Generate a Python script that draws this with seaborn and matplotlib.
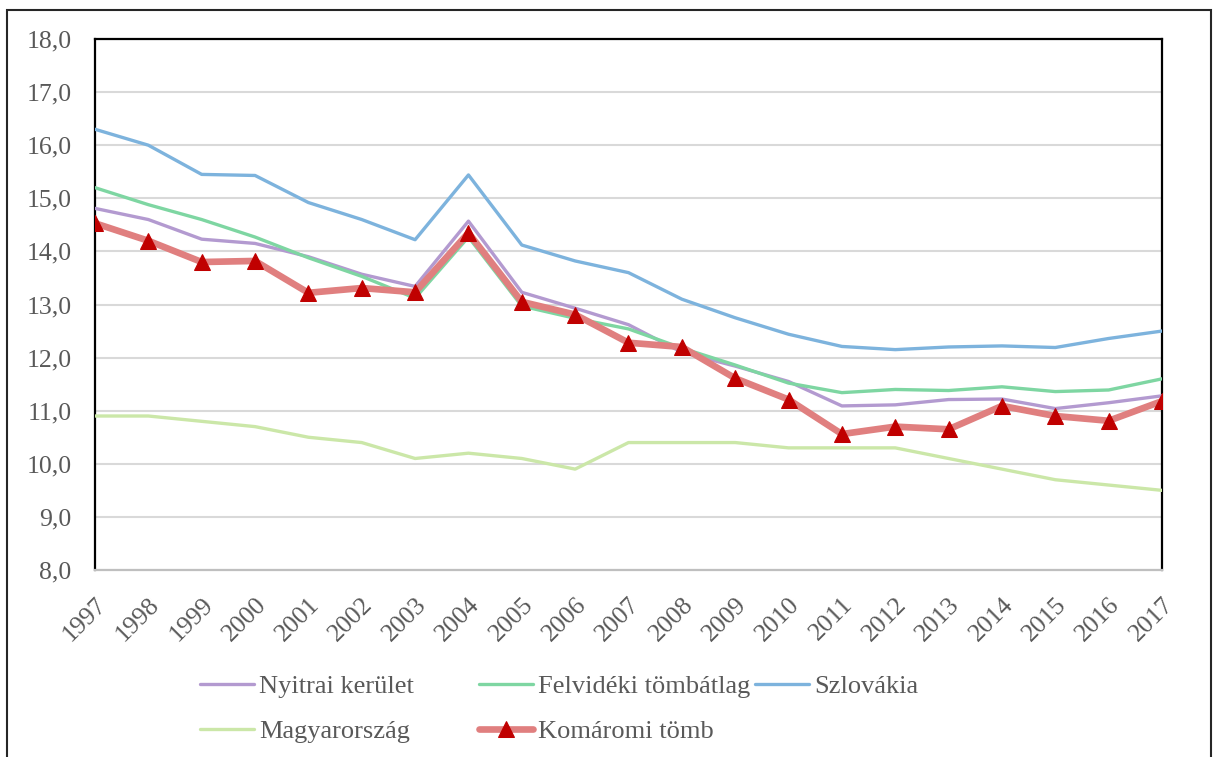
import matplotlib
matplotlib.use('Agg')
import matplotlib.pyplot as plt
import matplotlib.patches as mpatches
import pandas as pd
import seaborn as sns

years = list(range(1997, 2018))
nyitrai = [14.81, 14.60, 14.23, 14.15, 13.90, 13.57, 13.34, 14.57, 13.23, 12.93, 12.62,
           12.10, 11.84, 11.55, 11.09, 11.11, 11.21, 11.22, 11.04, 11.15, 11.28]
felvideki = [15.20, 14.88, 14.60, 14.27, 13.88, 13.53, 13.12, 14.27, 12.97, 12.74, 12.54,
             12.18, 11.86, 11.52, 11.34, 11.40, 11.38, 11.45, 11.36, 11.39, 11.60]
szlovakia = [16.30, 16.00, 15.45, 15.43, 14.92, 14.60, 14.22, 15.44, 14.12, 13.82, 13.60,
             13.10, 12.75, 12.44, 12.21, 12.15, 12.20, 12.22, 12.19, 12.36, 12.50]
magyar = [10.9, 10.9, 10.8, 10.7, 10.5, 10.4, 10.1, 10.2, 10.1, 9.9, 10.4,
          10.4, 10.4, 10.3, 10.3, 10.3, 10.1, 9.9, 9.7, 9.6, 9.5]
komaromi = [14.53, 14.20, 13.80, 13.82, 13.22, 13.31, 13.23, 14.35, 13.05, 12.81, 12.28,
            12.20, 11.61, 11.21, 10.56, 10.70, 10.65, 11.09, 10.90, 10.81, 11.18]

series = {
    "Nyitrai kerület": nyitrai,
    "Felvidéki tömbátlag": felvideki,
    "Szlovákia": szlovakia,
    "Magyarország": magyar,
    "Komáromi tömb": komaromi,
}
colors = {
    "Nyitrai kerület": "#B39AD0",
    "Felvidéki tömbátlag": "#7ED6A2",
    "Szlovákia": "#7DB3DD",
    "Magyarország": "#CBE7A8",
    "Komáromi tömb": "#E07F7F",
}

df = pd.DataFrame(
    [(name, y, v) for name, vals in series.items() for y, v in zip(years, vals)],
    columns=["series", "year", "value"],
)

sns.set_style("white")
plt.rcParams['font.family'] = ['Liberation Serif', 'DejaVu Serif']
TXT = "#595959"
W, H = 1213, 757

fig = plt.figure(figsize=(W / 100, H / 100), dpi=100)
ax = fig.add_axes([95 / W, 1 - 570 / H, (1162 - 95) / W, (570 - 39) / H])

for name in series:
    d = df[df["series"] == name]
    if name == "Komáromi tömb":
        sns.lineplot(data=d, x="year", y="value", ax=ax, color=colors[name], lw=4.8,
                     marker="^", markersize=12, markerfacecolor="#C00000",
                     markeredgecolor="#C00000", label=name, zorder=5)
    else:
        sns.lineplot(data=d, x="year", y="value", ax=ax, color=colors[name], lw=2.4,
                     label=name, zorder=3)

ax.set_xlim(1997, 2017)
ax.set_ylim(8, 18)
ax.set_yticks([8 + i for i in range(11)])
ax.set_yticklabels([f"{8 + i},0" for i in range(11)], fontsize=18.5, color=TXT)
ax.set_xticks(years)
ax.set_xticklabels([str(y) for y in years], rotation=45, ha="right", va="top",
                   rotation_mode="anchor", fontsize=18.5, color=TXT)
ax.tick_params(axis="y", length=0, pad=17)
ax.tick_params(axis="x", length=0, pad=17)
ax.set_xlabel("")
ax.set_ylabel("")
ax.grid(axis="y", color="#D9D9D9", lw=1.5)
ax.set_axisbelow(True)
for side in ["left", "right", "top"]:
    ax.spines[side].set_color("black")
    ax.spines[side].set_linewidth(1.6)
ax.spines["bottom"].set_color("#BFBFBF")
ax.spines["bottom"].set_linewidth(1.6)

# legend entries sit in fixed slots, like the original
handles, labels = ax.get_legend_handles_labels()
ax.get_legend().remove()
slots = {
    "Nyitrai kerület": (200, 686),
    "Felvidéki tömbátlag": (479, 686),
    "Szlovákia": (755, 686),
    "Magyarország": (200, 731),
    "Komáromi tömb": (479, 731),
}
for name, (px, py) in slots.items():
    hd = handles[labels.index(name)]
    fig.legend([hd], [name], loc="center left", bbox_to_anchor=(px / W, 1 - py / H),
               bbox_transform=fig.transFigure, frameon=False, fontsize=19,
               handlelength=2.05, handletextpad=0.2, borderpad=0, borderaxespad=0,
               labelcolor=TXT)

fig.patches.append(mpatches.Rectangle((7 / W, -0.05), (1211 - 7) / W, 1.05 - 10 / H,
                                      transform=fig.transFigure, fill=False,
                                      edgecolor="#262626", lw=1.5))

fig.savefig("out.png", dpi=100)
